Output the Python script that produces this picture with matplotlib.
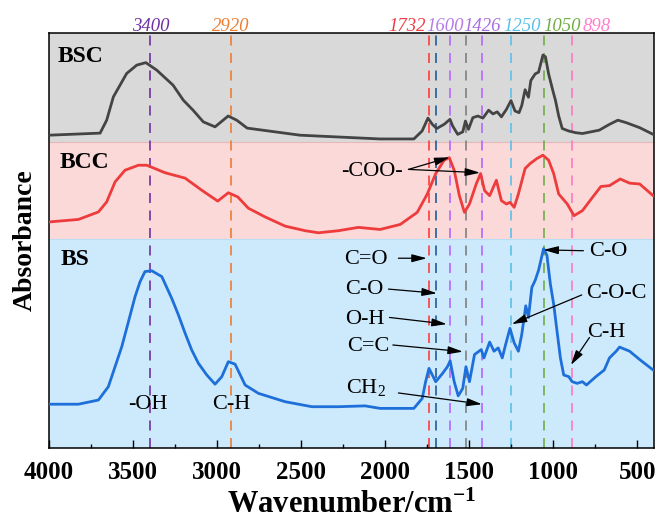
import numpy as np
import matplotlib
matplotlib.use('Agg')
import matplotlib.pyplot as plt
from matplotlib.ticker import MultipleLocator

plt.rcParams['font.family'] = 'Liberation Serif'
plt.rcParams['mathtext.fontset'] = 'custom'
plt.rcParams['mathtext.rm'] = 'Liberation Serif'
plt.rcParams['mathtext.it'] = 'Liberation Serif:italic'
plt.rcParams['mathtext.bf'] = 'Liberation Serif:bold'

# Spectra (wavenumber in cm-1, stacked absorbance in a.u.)
bsc_wn = [4000, 3696, 3657, 3617, 3538, 3478, 3424, 3359, 3262, 3201, 3143, 3082, 3012, 2934, 2883,
          2821, 2506, 2030, 1829, 1780, 1745, 1719, 1693, 1649, 1614, 1598, 1568, 1538, 1522, 1504,
          1478, 1448, 1418, 1384, 1358, 1333, 1308, 1278, 1251, 1227, 1203, 1187, 1167, 1147, 1133,
          1107, 1087, 1061, 1046, 1027, 1002, 986, 967, 946, 907, 866, 826, 726, 665, 615, 565, 485, 405]
bsc_ab = [76.7, 77.2, 80.3, 85.9, 91.5, 93.5, 94.1, 92.3, 88.7, 85.1, 82.7, 79.9, 78.7, 81.3, 80.3,
          78.4, 76.7, 75.8, 75.8, 77.7, 80.8, 79.3, 78.3, 79.3, 80.5, 78.9, 76.9, 77.5, 80.1, 78.1,
          80.9, 81.3, 80.8, 82.7, 81.8, 82.3, 81.1, 82.9, 85.0, 82.5, 82.1, 83.8, 87.6, 85.8, 89.8,
          91.4, 91.8, 95.9, 95.5, 91.4, 87.4, 85.0, 81.3, 78.3, 77.7, 77.3, 77.1, 77.9, 79.3, 80.3, 79.7, 78.5, 76.9]

bcc_wn = [4000, 3825, 3706, 3657, 3607, 3548, 3468, 3418, 3310, 3190, 3091, 2996, 2933, 2877, 2814,
          2714, 2595, 2476, 2397, 2278, 2159, 2030, 1910, 1809, 1749, 1699, 1649, 1618, 1589, 1558,
          1528, 1498, 1458, 1432, 1408, 1378, 1338, 1308, 1278, 1257, 1232, 1207, 1167, 1137, 1097,
          1061, 1027, 997, 967, 916, 876, 826, 766, 716, 665, 601, 545, 485, 405]
bcc_ab = [55.9, 56.5, 58.3, 60.7, 65.5, 68.3, 69.5, 69.5, 67.7, 66.4, 63.5, 60.9, 62.9, 61.9, 59.2,
          57.1, 54.9, 53.8, 53.3, 53.8, 54.6, 54.1, 55.3, 58.2, 62.6, 67.5, 70.7, 71.3, 68.3, 62.2,
          58.2, 60.2, 65.0, 67.5, 63.4, 62.2, 65.9, 61.0, 60.2, 60.6, 59.4, 62.6, 68.7, 69.9, 71.1,
          71.9, 70.7, 67.5, 62.6, 60.2, 57.4, 58.6, 61.8, 64.4, 64.6, 66.2, 65.2, 65.0, 62.2]

bs_wn = [4000, 3825, 3706, 3647, 3607, 3567, 3528, 3488, 3458, 3429, 3389, 3329, 3270, 3230, 3190,
         3151, 3111, 3061, 3012, 2972, 2933, 2893, 2833, 2754, 2595, 2436, 2278, 2119, 2030, 1829,
         1779, 1759, 1739, 1699, 1658, 1629, 1613, 1589, 1565, 1538, 1519, 1498, 1468, 1428, 1412,
         1378, 1352, 1327, 1303, 1283, 1257, 1232, 1207, 1187, 1163, 1147, 1127, 1107, 1087, 1057,
         1037, 1017, 997, 977, 957, 937, 907, 887, 857, 826, 802, 746, 696, 665, 625, 605, 545, 485, 405]
bs_ab = [12.2, 12.2, 13.2, 16.4, 21.2, 26.0, 31.9, 38.0, 41.6, 44.0, 44.2, 42.8, 37.6, 33.6, 29.2,
         25.2, 22.0, 19.2, 17.0, 18.8, 22.4, 21.8, 16.8, 14.8, 12.8, 11.6, 11.6, 11.8, 11.2, 11.2,
         13.6, 17.6, 20.8, 17.6, 19.6, 21.2, 22.6, 17.6, 14.2, 16.0, 21.2, 17.6, 24.1, 25.3, 23.3,
         27.1, 24.9, 25.7, 23.3, 26.5, 30.4, 26.9, 24.9, 28.9, 35.8, 33.0, 40.2, 41.9, 44.3, 49.5,
         47.9, 41.1, 36.2, 29.7, 23.3, 19.2, 18.8, 17.6, 17.2, 17.6, 16.8, 18.8, 20.4, 23.3, 24.9,
         25.9, 24.9, 22.9, 20.4]

# Characteristic band markers
peak_pos = [3397, 2918, 1741, 1697, 1613, 1521, 1425, 1252, 1056, 890]
peak_colors = ['#7030A0', '#ED7D31', '#FF3B3B', '#1F5C99', '#B366FF', '#808080',
               '#B366FF', '#5BC0EB', '#70AD47', '#FF78C0']
peak_labels = ['3400', '2920', '1732', '1600', '1426', '1250', '1050', '898']
peak_label_x = [3395, 2920, 1869, 1643, 1423, 1185, 946, 744]
peak_label_colors = ['#7030A0', '#ED7D31', '#F03C46', '#B57BEB', '#A86FE0', '#5BC0EB', '#70AD47', '#FF7FC8']

# Panel bands: (bottom, top, colour)
y_min, y_max = 1.7, 101.2
bands = [(y_min, 51.9, '#CCEAFC'), (51.9, 75.1, '#FBD9D9'), (75.1, y_max, '#D9D9D9')]

fig = plt.figure(figsize=(6.67, 5.19), dpi=100)
ax = fig.add_axes([0.0735, 0.1368, 0.907, 0.7996])

for lo, hi, c in bands:
    ax.axhspan(lo, hi, color=c, lw=0, zorder=0)
ax.axhline(75.1, color='#E8B8B8', lw=0.8, zorder=0.5)
ax.axhline(51.9, color='#B9DDF3', lw=0.8, zorder=0.5)

for x, c in zip(peak_pos, peak_colors):
    ax.axvline(x, color=c, lw=1.2, dashes=(6, 4.5), zorder=1)

ax.plot(bsc_wn, bsc_ab, color='#444444', lw=2.0, solid_joinstyle='round', zorder=3)
ax.plot(bcc_wn, bcc_ab, color='#EE3B3B', lw=2.0, solid_joinstyle='round', zorder=3)
ax.plot(bs_wn, bs_ab, color='#1E6FD9', lw=2.0, solid_joinstyle='round', zorder=3)

ax.set_xlim(4000, 400)
ax.set_ylim(y_min, y_max)

# peak labels above the frame
for lab, x, c in zip(peak_labels, peak_label_x, peak_label_colors):
    ax.text(x, 1.004, lab, transform=ax.get_xaxis_transform(), ha='center', va='baseline',
            fontsize=13.5, style='italic', color=c)

# sample names
for name, xf, yf in [('BSC', 0.0137, 0.931), ('BCC', 0.017, 0.674), ('BS', 0.0198, 0.441)]:
    ax.text(xf, yf, name, transform=ax.transAxes, fontsize=17, fontweight='bold', va='baseline')

# functional group annotations
group_labels = ['C=O', 'C-O', 'O-H', 'C=C', 'CH$_2$', 'C-O', 'C-O-C', 'C-H', '-COO-', '-OH', 'C-H']
group_xy = [(2117, 46.8), (2125, 39.6), (2119, 32.6), (2101, 26.1), (2113, 16.1),
            (673, 48.9), (625, 38.8), (685, 29.5), (2079, 68.1), (3411, 12.2), (2917, 12.2)]
for lab, (x, y) in zip(group_labels, group_xy):
    ax.text(x, y, lab, ha='center', va='center', fontsize=16, zorder=5)

arrows = [((1921, 47.2), (1752, 47.2)), ((1980, 39.8), (1692, 38.8)), ((1974, 33.0), (1633, 31.4)),
          ((1954, 26.4), (1537, 24.8)), ((1921, 14.9), (1424, 12.2)), ((820, 49.0), (1058, 49.2)),
          ((830, 38.4), (1246, 31.4)), ((784, 28.2), (895, 21.6)), ((1861, 68.5), (1617, 71.4)),
          ((1861, 68.5), (1435, 67.7))]
for tail, head in arrows:
    ax.annotate('', xy=head, xytext=tail, zorder=5,
                arrowprops=dict(arrowstyle='-|>,head_length=0.45,head_width=0.12',
                                color='black', lw=0.9, mutation_scale=20,
                                shrinkA=0, shrinkB=0))

ax.xaxis.set_major_locator(MultipleLocator(500))
ax.xaxis.set_minor_locator(MultipleLocator(250))
ax.tick_params(axis='x', which='major', direction='in', length=5.5, width=1, pad=9,
               labelsize=18, top=False)
ax.tick_params(axis='x', which='minor', direction='in', length=3, width=1, top=False)
ax.tick_params(axis='y', left=False, labelleft=False)
for lab in ax.get_xticklabels():
    lab.set_fontweight('bold')
for s in ax.spines.values():
    s.set_linewidth(1.1)

ax.set_xlabel(r'Wavenumber/cm$^{\mathbf{-1}}$', fontsize=22, fontweight='bold', labelpad=5)
ax.set_ylabel('Absorbance', fontsize=20, fontweight='bold', labelpad=8)

fig.savefig('out.png', dpi=100)
